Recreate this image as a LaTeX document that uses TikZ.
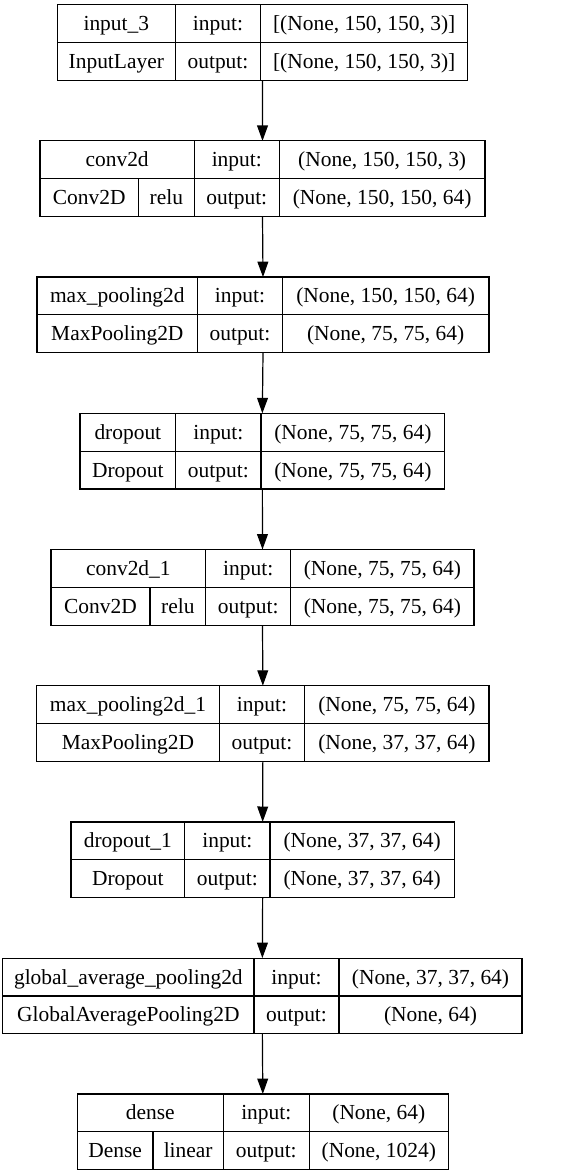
\documentclass[tikz,border=0pt]{standalone}
\usepackage{fontspec}
\setmainfont{Liberation Serif}
\usetikzlibrary{fit,arrows.meta}
\tikzset{
  lbox/.style={draw=black, line width=0.6pt, inner sep=0pt, outer sep=0pt},
  cell/.style={draw=black, line width=0.6pt},
  txt/.style={inner sep=0pt, anchor=base, font=\fontsize{10.72}{12}\selectfont},
  arr/.style={draw=black, line width=0.6pt, -{Triangle[length=7.7pt,width=5.4pt]}}
}
% name, top, left, d1, d2, right
\newcommand\layerbox[6]{%
  \pgfmathsetmacro\T{#2}\pgfmathsetmacro\M{#2+37.8}\pgfmathsetmacro\B{#2+75.6}%
  \pgfmathsetmacro\Ca{(#3+#4)/2}\pgfmathsetmacro\Cb{(#4+#5)/2}\pgfmathsetmacro\Cc{(#5+#6)/2}%
  \pgfmathsetmacro\Ya{#2+25.9}\pgfmathsetmacro\Yb{#2+63.7}%
  \pgfmathsetmacro\Lx{#3}\pgfmathsetmacro\Dx{#4}%
  \node[lbox, fit={(#3,\T) (#6,\B)}] (#1) {};
  \draw[cell] (#3,\M) -- (#6,\M) (#4,\T) -- (#4,\B) (#5,\T) -- (#5,\B);
}
% prefix, layer name, class, input shape, output shape
\newcommand\layertext[5]{%
  \node[txt] (#1n) at (\Ca,\Ya) {#2};
  \node[txt] (#1c) at (\Ca,\Yb) {#3};
  \node[txt] (#1i) at (\Cb,\Ya) {input:};
  \node[txt] (#1o) at (\Cb,\Yb) {output:};
  \node[txt] (#1s) at (\Cc,\Ya) {#4};
  \node[txt] (#1t) at (\Cc,\Yb) {#5};
}
% prefix, layer name, class, activation, activation divider x, input, output
\newcommand\layertextact[7]{%
  \pgfmathsetmacro\Ea{(\Lx+#5)/2}\pgfmathsetmacro\Eb{(#5+\Dx)/2}%
  \draw[cell] (#5,\M) -- (#5,\B);
  \node[txt] (#1n) at (\Ca,\Ya) {#2};
  \node[txt] (#1c) at (\Ea,\Yb) {#3};
  \node[txt] (#1a) at (\Eb,\Yb) {#4};
  \node[txt] (#1i) at (\Cb,\Ya) {input:};
  \node[txt] (#1o) at (\Cb,\Yb) {output:};
  \node[txt] (#1s) at (\Cc,\Ya) {#6};
  \node[txt] (#1t) at (\Cc,\Yb) {#7};
}
\begin{document}
\begin{tikzpicture}[x=0.5pt,y=-0.5pt]
\useasboundingbox (0,0) rectangle (584,1170);
\fill[white] (0,0) rectangle (584,1170);

\layerbox{b1}{4.7}{57.3}{175.3}{260.7}{467.7}
\layertext{t1}{input\_3}{InputLayer}{[(None, 150, 150, 3)]}{[(None, 150, 150, 3)]}

\layerbox{b2}{140.9}{40}{194.3}{279.3}{485}
\layertextact{t2}{conv2d}{Conv2D}{relu}{138.3}{(None, 150, 150, 3)}{(None, 150, 150, 64)}

\layerbox{b3}{277.1}{37}{197.7}{282.3}{489}
\layertext{t3}{max\_pooling2d}{MaxPooling2D}{(None, 150, 150, 64)}{(None, 75, 75, 64)}

\layerbox{b4}{413.3}{80}{175.7}{261}{444.7}
\layertext{t4}{dropout}{Dropout}{(None, 75, 75, 64)}{(None, 75, 75, 64)}

\layerbox{b5}{549.5}{51}{205.7}{290.7}{474}
\layertextact{t5}{conv2d\_1}{Conv2D}{relu}{150}{(None, 75, 75, 64)}{(None, 75, 75, 64)}

\layerbox{b6}{685.7}{36.7}{219.3}{304.7}{489}
\layertext{t6}{max\_pooling2d\_1}{MaxPooling2D}{(None, 75, 75, 64)}{(None, 37, 37, 64)}

\layerbox{b7}{821.9}{71}{184.7}{270}{454.3}
\layertext{t7}{dropout\_1}{Dropout}{(None, 37, 37, 64)}{(None, 37, 37, 64)}

\layerbox{b8}{958.1}{2.7}{254}{339}{522}
\layertext{t8}{global\_average\_pooling2d}{GlobalAveragePooling2D}{(None, 37, 37, 64)}{(None, 64)}

\layerbox{b9}{1094.0}{77.3}{223.3}{309.3}{448.3}
\layertextact{t9}{dense}{Dense}{linear}{153}{(None, 64)}{(None, 1024)}

\draw[arr] (b1.south) -- (b2.north);
\draw[arr] (b2.south) -- (b3.north);
\draw[arr] (b3.south) -- (b4.north);
\draw[arr] (b4.south) -- (b5.north);
\draw[arr] (b5.south) -- (b6.north);
\draw[arr] (b6.south) -- (b7.north);
\draw[arr] (b7.south) -- (b8.north);
\draw[arr] (b8.south) -- (b9.north);
\end{tikzpicture}
\end{document}
